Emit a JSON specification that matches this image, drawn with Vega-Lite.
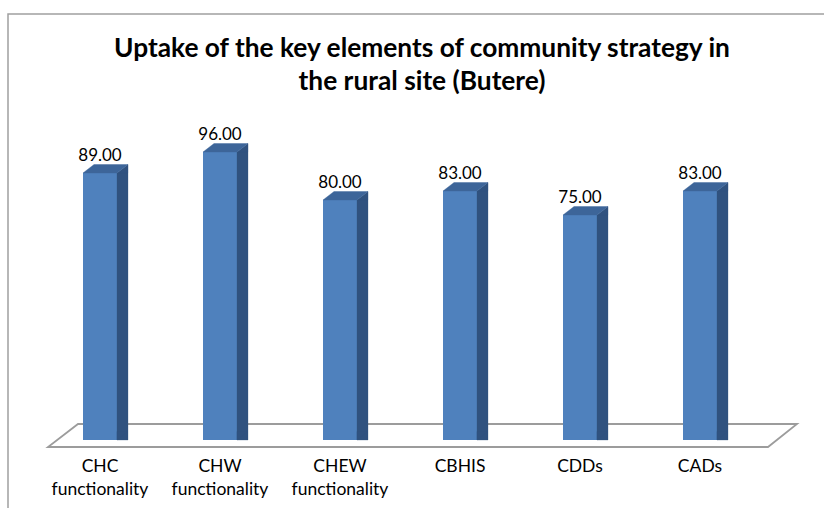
{
  "$schema": "https://vega.github.io/schema/vega-lite/v6.json",
  "width": 720,
  "height": 300,
  "autosize": "none",
  "padding": {"left": 40, "top": 140, "right": 64, "bottom": 68},
  "background": "white",
  "config": {"view": {"stroke": null}, "font": "Lato"},
  "title": {
    "text": ["Uptake of the key elements of community strategy in", "the rural site (Butere)"],
    "font": "Lato",
    "fontSize": 26.3,
    "fontWeight": "bold",
    "color": "black",
    "lineHeight": 33,
    "anchor": "middle",
    "dx": 22,
    "offset": 0,
    "dy": 84
  },
  "data": {
    "values": [
      {"cat": "CHC functionality", "value": 89},
      {"cat": "CHW functionality", "value": 96},
      {"cat": "CHEW functionality", "value": 80},
      {"cat": "CBHIS", "value": 83},
      {"cat": "CDDs", "value": 75},
      {"cat": "CADs", "value": 83}
    ]
  },
  "resolve": {"scale": {"y": "shared", "x": "shared"}},
  "layer": [
    {
      "data": {"values": [{"k": 0}]},
      "mark": {"type": "point", "shape": "M 430 -426 L -392 -426 L -392 80", "size": 4, "filled": false, "opacity": 1, "color": "#a0a0a0", "strokeWidth": 1.5},
      "encoding": {"y": {"datum": 0, "type": "quantitative", "scale": {"domain": [0, 100], "nice": false}, "axis": null}}
    },
    {
      "data": {"values": [{"k": 0}]},
      "mark": {"type": "point", "shape": "M -352 7 L 368 7 L 397 -16 L -322 -16 Z", "size": 4, "filled": false, "opacity": 1, "color": "#9c9c9c", "strokeWidth": 1.8},
      "encoding": {"y": {"datum": 0, "type": "quantitative"}}
    },
    {
      "mark": {"type": "bar", "width": 34, "color": "#4f81bd"},
      "encoding": {
        "x": {
          "field": "cat", "type": "nominal", "sort": null,
          "scale": {"paddingInner": 0, "paddingOuter": 0},
          "axis": {
            "title": null, "domain": false, "ticks": false, "labelAngle": 0,
            "labelExpr": "split(datum.value, ' ')",
            "labelFont": "Lato", "labelFontSize": 17.5, "labelColor": "black",
            "labelLineHeight": 23, "labelPadding": 17
          }
        },
        "y": {"field": "value", "type": "quantitative"}
      }
    },
    {
      "mark": {"type": "bar", "width": 11, "xOffset": 22.5, "y2Offset": -8.5, "color": "#30527f", "stroke": "#30527f", "strokeWidth": 0.3},
      "encoding": {
        "x": {"field": "cat", "type": "nominal", "sort": null},
        "y": {"field": "value", "type": "quantitative"}
      }
    },
    {
      "mark": {"type": "point", "shape": "M 17 -8.5 L 28 -8.5 L 17 0 Z", "size": 4, "filled": true, "opacity": 1, "color": "#30527f", "stroke": "#30527f", "strokeWidth": 0.4},
      "encoding": {
        "x": {"field": "cat", "type": "nominal", "sort": null},
        "y": {"datum": 0, "type": "quantitative"}
      }
    },
    {
      "mark": {"type": "point", "shape": "M 17 0 L 28 -8.5 L 28 0 Z", "size": 4, "filled": true, "opacity": 1, "color": "#30527f", "stroke": "#30527f", "strokeWidth": 0.4},
      "encoding": {
        "x": {"field": "cat", "type": "nominal", "sort": null},
        "y": {"field": "value", "type": "quantitative"}
      }
    },
    {
      "mark": {"type": "point", "shape": "M -17 0 L 17 0 L 28 -8.5 L -6 -8.5 Z", "size": 4, "filled": true, "opacity": 1, "color": "#3d6599", "stroke": "#3d6599", "strokeWidth": 0.4},
      "encoding": {
        "x": {"field": "cat", "type": "nominal", "sort": null},
        "y": {"field": "value", "type": "quantitative"}
      }
    },
    {
      "mark": {"type": "text", "dy": -12, "baseline": "alphabetic", "font": "Lato", "fontSize": 17, "color": "black"},
      "encoding": {
        "x": {"field": "cat", "type": "nominal", "sort": null},
        "y": {"field": "value", "type": "quantitative"},
        "text": {"field": "value", "type": "quantitative", "format": ".2f"}
      }
    }
  ]
}
